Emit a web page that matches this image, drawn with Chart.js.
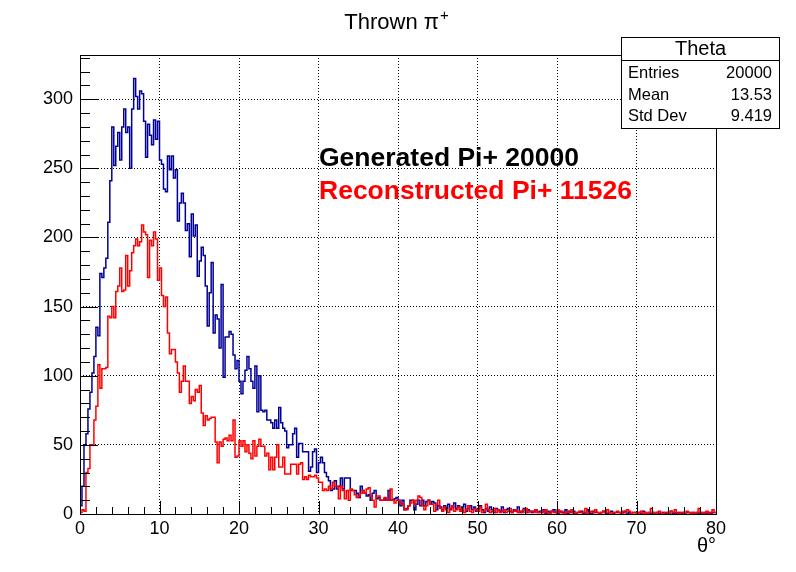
<!DOCTYPE html>
<html>
<head>
<meta charset="utf-8">
<script src="https://cdn.jsdelivr.net/npm/chart.js@4"></script>
<style>
  html, body { margin: 0; padding: 0; background: #fff; }
</style>
</head>
<body>
<canvas id="theta" width="796" height="572"></canvas>
<script>
// histogram of theta, 320 bins of 0.25 deg from 0 to 80
const binWidth = 0.25;

const generated = [
  6, 20, 50, 58, 76, 88, 102, 114, 135, 129, 174, 171, 178, 185, 211,
  241, 280, 252, 266, 276, 256, 280, 293, 276, 280, 250, 293, 315, 302, 293, 306, 304,
  284, 258, 282, 274, 267, 285, 271, 284, 256, 253, 235, 233, 259, 249, 259, 243, 249,
  212, 225, 232, 225, 205, 210, 186,
  217, 201, 209, 172, 183, 193, 187, 165, 136, 160, 182, 131, 144, 141, 120, 166, 99, 128, 128, 132, 130,
  115, 105, 111, 96, 87, 96, 104, 114, 105, 96, 91, 107, 74, 100, 75, 74, 75, 68, 68, 66,
  62, 68, 62, 77, 66, 62, 60, 48, 50, 50, 58, 62, 41, 51,
  51, 45, 45, 45, 31, 34, 45, 47, 30, 37, 41, 37, 30, 27, 24, 17, 18, 24, 18, 20,
  26, 18, 26, 26, 26, 17, 17, 17, 15, 12, 20, 17, 15, 13, 14, 10, 15, 17, 11, 12,
  10, 10, 11, 10, 17, 10, 10, 11, 12, 10, 6, 10, 3, 4, 6, 10, 10, 3, 7, 10,
  6, 10, 6, 9, 10, 7, 9, 8, 3, 6,
  5, 3, 6, 4, 7, 3, 5, 8, 4, 6,
  3, 5, 7, 2, 4, 6, 3, 5, 2, 4,
  6, 3, 1, 4, 2, 5, 3, 1, 4, 3,
  2, 5, 1, 3, 4, 2, 1, 3, 2, 5,
  1, 2, 4, 1, 3, 2, 1, 2, 3, 1,
  2, 1, 3, 0, 2, 1, 2, 3, 1, 0,
  2, 1, 1, 3, 0, 2, 1, 2, 0, 1,
  1, 2, 0, 1, 3, 1, 0, 2, 1, 1,
  0, 1, 2, 1, 0, 1, 2, 0, 1, 1,
  1, 0, 1, 2, 0, 1, 0, 1, 1, 0,
  1, 0, 2, 1, 0, 1, 0, 1, 0, 1,
  0, 1, 1, 0, 1, 0, 2, 0, 1, 0,
  1, 0, 1, 0, 1, 1, 0, 1, 0, 1,
  0, 1, 0, 1, 0, 1, 0, 1, 1
];

const reconstructed = [
  1, 3, 2, 30, 33, 50, 50, 68, 78, 108, 91, 105, 105, 106, 143,
  142, 150, 142, 161, 165, 178, 161, 162, 187, 165, 176, 189, 194, 199, 194,
  197, 209, 204, 202, 171, 198, 194, 204, 199, 169, 178, 158, 150, 157, 131,
  116, 119, 119, 110, 102, 88, 96, 107, 96, 96, 80,
  85, 82, 90, 88, 93, 73, 64, 71, 68, 69, 70, 70, 52, 37, 52, 49, 54, 55, 53, 57,
  53, 68, 41, 42, 53, 49, 53, 45, 50, 44, 40, 53, 42, 49, 54, 49, 49, 42, 44, 32,
  41, 32, 41, 50, 34, 34, 41, 29, 29, 29, 36, 36, 36, 29, 36,
  37, 25, 27, 25, 28, 27, 27, 28, 26, 23, 23, 17, 18, 17, 20,
  18, 23, 20, 20, 11, 20, 17, 11, 17, 10, 18, 17, 14, 12, 13, 15, 17, 15, 18, 19,
  13, 10, 5, 13, 13, 10, 10, 12, 10, 10, 18, 10, 8, 10, 10, 8, 7, 3, 3, 6,
  8, 10, 7, 10, 13, 12, 6, 3, 6, 10, 7, 7, 2, 7, 10,
  4, 2, 5, 3, 1, 4, 6, 2, 3, 5,
  2, 4, 1, 3, 6, 2, 1, 4, 3, 2,
  5, 1, 2, 7, 3, 1, 2, 4, 1, 3,
  1, 2, 3, 1, 2, 4, 1, 2, 3, 1,
  2, 1, 3, 4, 1, 2, 2, 1, 3, 1,
  1, 2, 1, 3, 1, 0, 2, 1, 1, 3,
  1, 2, 0, 1, 2, 1, 3, 1, 0, 1,
  2, 1, 1, 4, 0, 1, 2, 1, 3, 1,
  0, 1, 2, 1, 3, 1, 0, 1, 1, 2,
  1, 0, 2, 1, 3, 2, 0, 1, 1, 0,
  1, 2, 0, 1, 0, 1, 4, 1, 0, 1,
  2, 1, 0, 1, 1, 0, 2, 1, 3, 1,
  0, 1, 1, 0, 2, 1, 0, 1, 0, 1,
  4, 1, 0, 1, 2, 0, 1, 3, 1
];

const xTickValues = [0, 10, 20, 30, 40, 50, 60, 70, 80];
const yTickValues = [0, 50, 100, 150, 200, 250, 300];
const yMax = 332;

const statTitle = "Theta";
const statNames = ["Entries", "Mean", "Std Dev"];
const statValues = ["20000", "13.53", "9.419"];

const labelLines = ["Generated Pi+ 20000", "Reconstructed Pi+ 11526"];
const labelColors = ["#000000", "#ff0000"];

const FONT = "'Liberation Sans', Arial, Helvetica, sans-serif";

// bin contents -> points for a step outline
function toSteps(counts) {
  const pts = [{ x: 0, y: 0 }];
  counts.forEach((c, i) => pts.push({ x: i * binWidth, y: c }));
  pts.push({ x: counts.length * binWidth, y: counts[counts.length - 1] });
  return pts;
}

//frame, inner ticks, title, stats box and the text labels
const rootStyle = {
  id: "rootStyle",
  afterDraw(chart) {
    const ctx = chart.ctx;
    const a = chart.chartArea;
    const xs = chart.scales.x;
    const ys = chart.scales.y;
    const px = v => Math.round(v) + 0.5;

    ctx.save();
    ctx.strokeStyle = "#000";
    ctx.lineWidth = 1;
    ctx.setLineDash([]);

    // ticks pointing into the frame
    ctx.beginPath();
    for (let v = 0; v <= 80; v += 2) {
      const x = px(xs.getPixelForValue(v));
      const len = v % 10 === 0 ? 13 : 7;
      ctx.moveTo(x, a.bottom);
      ctx.lineTo(x, a.bottom - len);
    }
    for (let v = 0; v <= yMax; v += 10) {
      const y = px(ys.getPixelForValue(v));
      const len = v % 50 === 0 ? 18 : 10;
      ctx.moveTo(a.left, y);
      ctx.lineTo(a.left + len, y);
    }
    ctx.stroke();

    // frame
    ctx.strokeRect(px(a.left), px(a.top), Math.round(a.right - a.left), Math.round(a.bottom - a.top));

    // title
    ctx.fillStyle = "#000";
    ctx.textBaseline = "alphabetic";
    ctx.font = "22px " + FONT;
    const main = "Thrown \u03c0";
    const wMain = ctx.measureText(main).width;
    ctx.font = "15px " + FONT;
    const wSup = ctx.measureText("+").width;
    const x0 = 396 - (wMain + wSup) / 2;
    ctx.font = "22px " + FONT;
    ctx.textAlign = "left";
    ctx.fillText(main, x0, 29);
    ctx.font = "15px " + FONT;
    ctx.fillText("+", x0 + wMain + 1, 20);

    // axis title
    ctx.font = "20px " + FONT;
    ctx.textAlign = "right";
    ctx.fillText("\u03b8\u00b0", 716, 552);

    // label lines
    ctx.font = "bold 26.5px " + FONT;
    ctx.textAlign = "left";
    labelLines.forEach((t, i) => {
      ctx.fillStyle = labelColors[i];
      ctx.fillText(t, 319, 166 + i * 33);
    });

    // stats box
    const bx = 621, by = 37, bw = 159, bh = 92;
    ctx.fillStyle = "#fff";
    ctx.fillRect(bx, by, bw, bh);
    ctx.strokeStyle = "#000";
    ctx.strokeRect(bx + 0.5, by + 0.5, bw - 1, bh - 1);
    ctx.beginPath();
    ctx.moveTo(bx, 60.5);
    ctx.lineTo(bx + bw, 60.5);
    ctx.stroke();
    ctx.fillStyle = "#000";
    ctx.font = "20px " + FONT;
    ctx.textAlign = "center";
    ctx.fillText(statTitle, bx + bw / 2, 55);
    ctx.font = "16.5px " + FONT;
    statNames.forEach((n, i) => {
      const yb = 78 + i * 21.5;
      ctx.textAlign = "left";
      ctx.fillText(n, bx + 7, yb);
      ctx.textAlign = "right";
      ctx.fillText(statValues[i], bx + bw - 8, yb);
    });
    ctx.restore();
  }
};

const axisFont = { family: FONT, size: 18 };

new Chart(document.getElementById("theta"), {
  type: "line",
  plugins: [rootStyle],
  data: {
    datasets: [
      {
        label: "Reconstructed",
        data: toSteps(reconstructed),
        borderColor: "#ff0000",
        borderWidth: 1.5,
        stepped: true,
        pointRadius: 0,
        fill: false
      },
      {
        label: "Generated",
        data: toSteps(generated),
        borderColor: "#000099",
        borderWidth: 1.5,
        stepped: true,
        pointRadius: 0,
        fill: false
      }
    ]
  },
  options: {
    responsive: false,
    devicePixelRatio: 1,
    animation: false,
    events: [],
    layout: { padding: { left: 0, right: 80, top: 55, bottom: 0 } },
    plugins: {
      legend: { display: false },
      title: { display: false },
      tooltip: { enabled: false }
    },
    scales: {
      x: {
        type: "linear",
        min: 0,
        max: 80,
        afterFit: s => { s.height = 58; },
        afterBuildTicks: s => { s.ticks = xTickValues.map(v => ({ value: v })); },
        ticks: { color: "#000", font: axisFont, padding: 4, maxRotation: 0, autoSkip: false },
        grid: { color: "#000", lineWidth: 1, drawTicks: false },
        border: { display: false, dash: [1, 2] }
      },
      y: {
        type: "linear",
        min: 0,
        max: yMax,
        afterFit: s => { s.width = 80; },
        afterBuildTicks: s => { s.ticks = yTickValues.map(v => ({ value: v })); },
        ticks: { color: "#000", font: axisFont, padding: 7 },
        grid: { color: "#000", lineWidth: 1, drawTicks: false },
        border: { display: false, dash: [1, 2] }
      }
    }
  }
});
</script>
</body>
</html>
